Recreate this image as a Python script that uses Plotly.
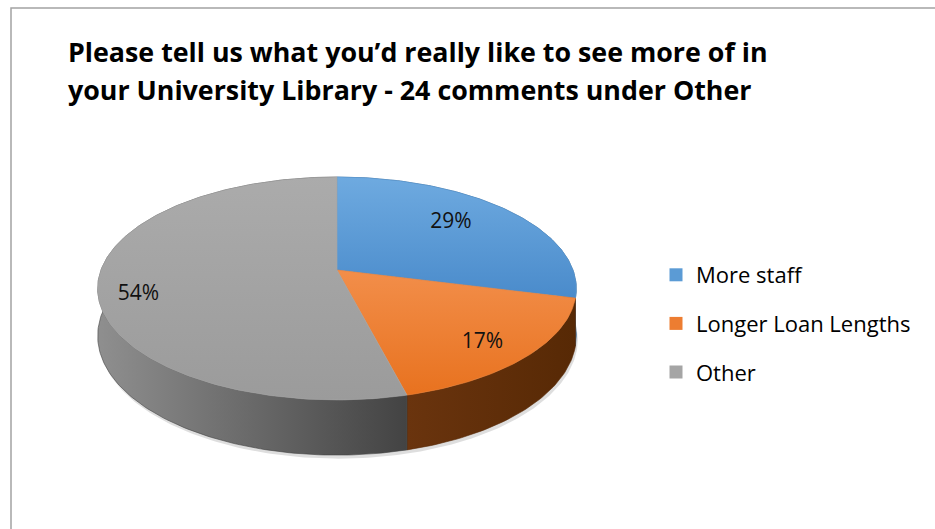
import numpy as np
import plotly.graph_objects as go

# ---- data -------------------------------------------------------------
categories = ["More staff", "Longer Loan Lengths", "Other"]
shares = [29, 17, 54]                      # percent of responses
title_lines = [
    "Please tell us what you\u2019d really like to see more of in",
    "your University Library - 24 comments under Other",
]

# ---- styling ----------------------------------------------------------
face_colors = ["#5b9bd5", "#ed7d31", "#a5a5a5"]
top_grad = [("#6eaae0", "#4a8bcb"), ("#f28e4a", "#e8721f"), ("#ababab", "#9b9b9b")]
wall_grad = [("#3b70a6", "#2b5985"), ("#6a340e", "#572905"), ("#8f8f8f", "#434343")]
label_radius = [0.70, 0.82, 0.84]          # radial placement of slice labels
label_frac = [0.46, 0.54, 0.46]            # angular placement within each slice

W, H = 935, 529
FONT = "Open Sans"

# pseudo-3D pie geometry (pixel space)
CX, CY = 337.0, 270.0      # apex of the slices
RX, RY = 236.0, 108.4      # horizontal / vertical radius of the disc
K = 0.166                  # perspective strength
DEPTH = 46.0               # thickness of the disc


def project(theta, rho=1.0, drop=0.0):
    """Map an angle (clockwise from 12 o'clock) on the disc to screen pixels."""
    u = rho * np.sin(theta)
    v = rho * np.cos(theta)
    w = 1.0 + K * v
    return CX + RX * u / w, CY - RY * v / w + drop / w


total = float(sum(shares))
bounds = np.concatenate([[0.0], np.cumsum(shares) / total]) * 2 * np.pi

fig = go.Figure()

# soft shadow under the disc
th_all = np.linspace(0, 2 * np.pi, 361)
sx, sy = project(th_all, drop=DEPTH)
fig.add_trace(go.Scatter(x=sx + 1.5, y=sy + 3.5, mode="lines", fill="toself",
                         fillcolor="rgba(0,0,0,0.13)", line=dict(width=0),
                         hoverinfo="skip", showlegend=False))

# outer walls
for i, name in enumerate(categories):
    t0, t1 = bounds[i], bounds[i + 1]
    th = np.linspace(t0, t1, max(8, int((t1 - t0) / (2 * np.pi) * 360)))
    tx, ty = project(th)
    bx, by = project(th[::-1], drop=DEPTH)
    xs = np.concatenate([tx, bx, tx[:1]])
    ys = np.concatenate([ty, by, ty[:1]])
    c0, c1 = wall_grad[i]
    fig.add_trace(go.Scatter(
        x=xs, y=ys, mode="lines", fill="toself",
        fillgradient=dict(type="horizontal", colorscale=[[0, c0], [1, c1]],
                          start=float(xs.min()), stop=float(xs.max())),
        line=dict(width=0.6, color=c1), hoverinfo="skip", showlegend=False))

# top faces
for i, name in enumerate(categories):
    t0, t1 = bounds[i], bounds[i + 1]
    th = np.linspace(t0, t1, max(8, int((t1 - t0) / (2 * np.pi) * 360)))
    tx, ty = project(th)
    xs = np.concatenate([[CX], tx, [CX]])
    ys = np.concatenate([[CY], ty, [CY]])
    c0, c1 = top_grad[i]
    fig.add_trace(go.Scatter(
        x=xs, y=ys, mode="lines", fill="toself",
        fillgradient=dict(type="vertical", colorscale=[[0, c0], [1, c1]],
                          start=float(ys.min()), stop=float(ys.max())),
        line=dict(width=0.6, color=face_colors[i]), hoverinfo="skip",
        showlegend=False))

# percentage labels
lx, ly, lt = [], [], []
for i, v in enumerate(shares):
    ang = bounds[i] + label_frac[i] * (bounds[i + 1] - bounds[i])
    px, py = project(ang, rho=label_radius[i])
    lx.append(px)
    ly.append(py)
    lt.append(f"{v}%")
fig.add_trace(go.Scatter(x=lx, y=ly, mode="text", text=lt,
                         textposition="middle center",
                         textfont=dict(family=FONT, size=21, color="#111111"),
                         hoverinfo="skip", showlegend=False))

# legend entries
for i, name in enumerate(categories):
    fig.add_trace(go.Scatter(x=[None], y=[None], mode="markers", name=name,
                             legendgroup=name,
                             marker=dict(symbol="square", size=13,
                                         color=face_colors[i])))

# title
for j, line in enumerate(title_lines):
    fig.add_annotation(x=66, y=51 + 38 * j, xref="x", yref="y", text=line,
                       showarrow=False, xanchor="left", yanchor="middle",
                       font=dict(family=FONT, size=26.8, color="#000000",
                                 weight=700))

# chart frame
fig.add_shape(type="rect", x0=11, y0=8, x1=W + 10, y1=H + 10, xref="x", yref="y",
              line=dict(color="#a3a3a3", width=1.5), fillcolor="rgba(0,0,0,0)",
              layer="below")

fig.update_layout(
    width=W, height=H,
    margin=dict(l=0, r=0, t=0, b=0),
    paper_bgcolor="white", plot_bgcolor="white",
    xaxis=dict(range=[0, W], visible=False, fixedrange=True),
    yaxis=dict(range=[H, 0], visible=False, fixedrange=True),
    legend=dict(x=656 / W, y=1 - 254 / H, xanchor="left", yanchor="top",
                font=dict(family=FONT, size=22, color="#000000"),
                tracegroupgap=17, bgcolor="rgba(0,0,0,0)"),
    showlegend=True,
)

fig.write_html("out.html")
